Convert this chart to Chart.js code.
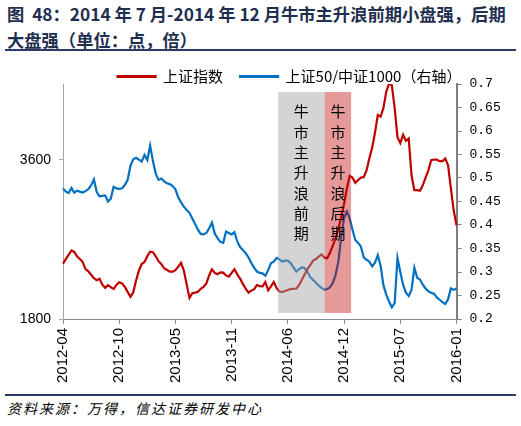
<!DOCTYPE html>
<html>
<head>
<meta charset="utf-8">
<script src="https://cdn.jsdelivr.net/npm/chart.js@4.4.0/dist/chart.umd.min.js"></script>
<style>
  html, body { margin: 0; padding: 0; background: #fff; }
  body { width: 521px; height: 426px; overflow: hidden; position: relative; }
  .title { position: absolute; left: 7px; top: 1px; font: bold 17.3px "Noto Sans CJK SC"; color: #1f2f4f; line-height: 26px; white-space: nowrap; }
  .rule { position: absolute; left: 5px; width: 511px; height: 2px; background: #2a3b66; }
  #wrap { position: absolute; left: 0; top: 52px; width: 579px; height: 340px; }
  .source { position: absolute; left: 7px; top: 398px; font: italic 14px "Noto Sans CJK SC"; letter-spacing: 2px; color: #000; white-space: nowrap; }
</style>
</head>
<body>
<div class="title">图&nbsp;&nbsp;48：2014 年 7 月-2014 年 12 月牛市主升浪前期小盘强，后期<br>大盘强（单位：点，倍）</div>
<div class="rule" style="top:49px"></div>
<div id="wrap"><canvas id="chart"></canvas></div>
<div class="rule" style="top:394px"></div>
<div class="source">资料来源：万得，信达证券研发中心</div>
<script>
const tickLabels = ['2012-04', '2012-10', '2013-05', '2013-11', '2014-06', '2014-12', '2015-07', '2016-01'];
const pointsPerTick = 20;

// 上证指数 (left axis)
const shIndex = [
  2425, 2476, 2525, 2575, 2558, 2508, 2477, 2444, 2364, 2338,
  2300, 2260, 2239, 2254, 2188, 2152, 2183, 2160, 2138, 2185,
  2215, 2202, 2162, 2107, 2050, 2101, 2236, 2346, 2421, 2445,
  2510, 2560, 2555, 2508, 2453, 2420, 2373, 2354, 2335, 2335,
  2351, 2392, 2434, 2347, 2191, 2037, 2091, 2098, 2108, 2141,
  2162, 2202, 2292, 2362, 2321, 2306, 2326, 2324, 2292, 2278,
  2322, 2363, 2304, 2256, 2197, 2142, 2098, 2121, 2137, 2184,
  2172, 2170, 2219, 2123, 2169, 2218, 2148, 2111, 2106, 2117,
  2127, 2138, 2142, 2142, 2185, 2244, 2306, 2365, 2412, 2460,
  2478, 2506, 2529, 2493, 2487, 2552, 2629, 2715, 2824, 2957,
  3096, 3277, 3415, 3397, 3338, 3370, 3398, 3404, 3479, 3617,
  3736, 3906, 4104, 4086, 4183, 4366, 4460, 4440, 4183, 3855,
  3787, 3881, 3813, 3840, 3424, 3255, 3255, 3249, 3311, 3398,
  3479, 3594, 3602, 3601, 3583, 3583, 3612, 3538, 3277, 3028,
  2858
];

// 上证50/中证1000 (right axis)
const ratio = [
  0.478, 0.471, 0.468, 0.479, 0.469, 0.473, 0.471, 0.469, 0.472, 0.476,
  0.484, 0.497, 0.470, 0.461, 0.462, 0.463, 0.450, 0.456, 0.481, 0.478,
  0.477, 0.478, 0.485, 0.496, 0.526, 0.540, 0.543, 0.539, 0.535, 0.549,
  0.538, 0.569, 0.536, 0.509, 0.496, 0.499, 0.493, 0.489, 0.487, 0.483,
  0.476, 0.459, 0.448, 0.439, 0.432, 0.426, 0.414, 0.402, 0.390, 0.381,
  0.380, 0.383, 0.393, 0.405, 0.382, 0.372, 0.364, 0.362, 0.386, 0.383,
  0.380, 0.385, 0.365, 0.353, 0.347, 0.340, 0.331, 0.319, 0.309, 0.301,
  0.298, 0.297, 0.292, 0.304, 0.319, 0.322, 0.330, 0.327, 0.322, 0.324,
  0.324, 0.319, 0.310, 0.301, 0.306, 0.310, 0.308, 0.300, 0.289, 0.283,
  0.277, 0.271, 0.266, 0.262, 0.264, 0.267, 0.277, 0.294, 0.323, 0.376,
  0.415, 0.429, 0.414, 0.390, 0.368, 0.362, 0.354, 0.331, 0.326, 0.322,
  0.312, 0.320, 0.336, 0.313, 0.272, 0.252, 0.237, 0.225, 0.234, 0.330,
  0.300, 0.273, 0.256, 0.249, 0.262, 0.309, 0.288, 0.284, 0.273, 0.265,
  0.259, 0.256, 0.254, 0.246, 0.241, 0.236, 0.232, 0.242, 0.265, 0.262,
  0.265
];

const leftTicks = [1800, 3600];
const rightTicks = [0.2, 0.25, 0.3, 0.35, 0.4, 0.45, 0.5, 0.55, 0.6, 0.65, 0.7];

// shaded phases, in category index units
const shadeFrom = [76.5, 93.1];
const shadeTo = [93.1, 102.5];
const shadeText = ['牛市主升浪前期', '牛市主升浪后期'];
const shadeColors = ['rgba(160,160,160,0.45)', 'rgba(192,0,0,0.4)'];

const categories = shIndex.map((_, i) => i % pointsPerTick === 0 ? tickLabels[i / pointsPerTick] : '');

const shadePlugin = {
  id: 'shade',
  afterDatasetsDraw(chart) {
    const ctx = chart.ctx;
    const xs = chart.scales.x;
    const ys = chart.scales.y1;
    const top = ys.getPixelForValue(0.683);
    const bottom = ys.getPixelForValue(0.2128);
    shadeFrom.forEach((from, k) => {
      const left = xs.getPixelForValue(from);
      const right = xs.getPixelForValue(shadeTo[k]);
      ctx.save();
      ctx.fillStyle = shadeColors[k];
      ctx.fillRect(left, top, right - left, bottom - top);
      ctx.fillStyle = '#000';
      ctx.font = '15px "Noto Sans CJK SC"';
      ctx.textAlign = 'center';
      ctx.textBaseline = 'middle';
      [...shadeText[k]].forEach((ch, j) => {
        ctx.fillText(ch, (left + right) / 2, top + 19.7 + j * 20.3);
      });
      ctx.restore();
    });
  }
};

// keep the legend short so the plot starts right under it
const legendHeight = {
  id: 'legendHeight',
  afterInit(chart) {
    const lg = chart.legend;
    const fit = lg.fit.bind(lg);
    lg.fit = function () { fit(); this.height = 32; };
  }
};

new Chart(document.getElementById('chart'), {
  type: 'line',
  data: {
    labels: categories,
    datasets: [
      {
        label: '上证指数',
        data: shIndex,
        yAxisID: 'y',
        borderColor: '#c00000',
        backgroundColor: '#c00000',
        borderWidth: 2.2,
        pointRadius: 0,
        fill: false
      },
      {
        label: '上证50/中证1000（右轴）',
        data: ratio,
        yAxisID: 'y1',
        borderColor: '#0070c0',
        backgroundColor: '#0070c0',
        borderWidth: 2.2,
        pointRadius: 0,
        fill: false
      }
    ]
  },
  options: {
    responsive: true,
    maintainAspectRatio: false,
    animation: false,
    layout: { padding: 0 },
    plugins: {
      legend: {
        position: 'top',
        align: 'center',
        labels: {
          boxWidth: 38,
          boxHeight: 1,
          padding: 17,
          color: '#000',
          font: { family: 'Noto Sans CJK SC', size: 15 }
        }
      },
      tooltip: { enabled: false }
    },
    scales: {
      x: {
        type: 'category',
        offset: false,
        afterBuildTicks: s => { s.ticks = s.ticks.filter(t => categories[t.value] !== ''); },
        afterFit: s => { s.height = 73; },
        grid: { drawOnChartArea: false, drawTicks: true, tickLength: 5, color: '#898989' },
        border: { color: '#898989', width: 1 },
        ticks: {
          autoSkip: false,
          minRotation: 90,
          maxRotation: 90,
          padding: 4,
          color: '#000',
          font: { family: 'Liberation Sans', size: 15 }
        }
      },
      y: {
        position: 'left',
        min: 1800,
        max: 4455,
        afterBuildTicks: s => { s.ticks = leftTicks.map(v => ({ value: v })); },
        afterFit: s => { s.width = 63; },
        grid: { drawOnChartArea: false, drawTicks: true, tickLength: 4, color: '#a6a6a6' },
        border: { color: '#a6a6a6', width: 1 },
        ticks: {
          padding: 8,
          color: '#000',
          font: { family: 'Liberation Sans', size: 14 },
          callback: v => String(v)
        }
      },
      y1: {
        position: 'right',
        min: 0.2,
        max: 0.7,
        afterBuildTicks: s => { s.ticks = rightTicks.map(v => ({ value: v })); },
        afterFit: s => { s.width = 122.5; },
        grid: { drawOnChartArea: false, drawTicks: true, tickLength: 5, color: '#7f7f7f' },
        border: { color: '#7f7f7f', width: 2 },
        ticks: {
          padding: 8,
          color: '#000',
          font: { family: 'Liberation Mono', size: 13 },
          callback: v => String(v)
        }
      }
    }
  },
  plugins: [shadePlugin, legendHeight]
});
</script>
</body>
</html>
